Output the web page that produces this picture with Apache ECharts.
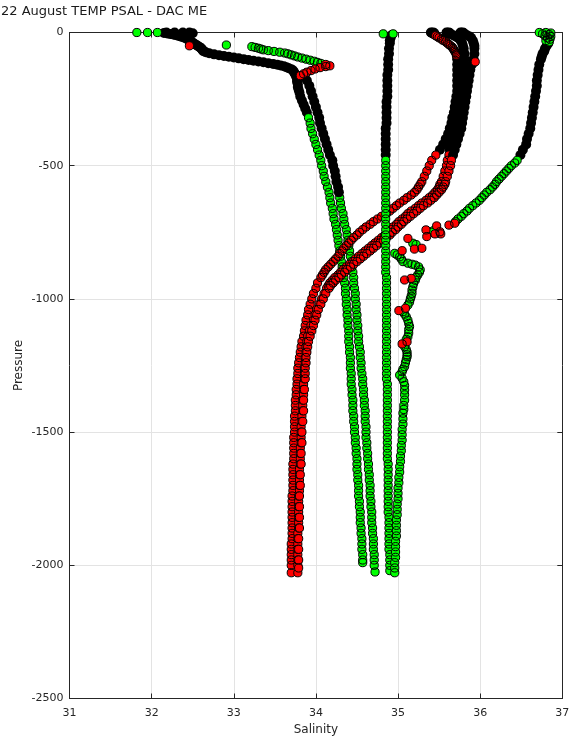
<!DOCTYPE html>
<html>
<head>
<meta charset="utf-8">
<title>22 August TEMP PSAL - DAC ME</title>
<script src="https://cdn.jsdelivr.net/npm/echarts/dist/echarts.min.js"></script>
<style>
  html, body { margin: 0; padding: 0; background: #ffffff; }
  #chart { width: 575px; height: 740px; }
</style>
</head>
<body>
<div id="chart"></div>
<script>
// Salinity profiles. Each row is [pressure (dbar, positive down), salinity].
// "Fine" segments are the finely sampled layers whose marker outlines merge into solid black;
// "Body" segments show the marker fill; "Flag" rows are QC-flagged samples drawn in red.

// ---- Profile A (fresh surface, ends near 1990 dbar) ----
const gaFine = [[0,32.18],[0,32.28],[0,32.38],[0,32.46],[2,32.15],[3,32.5],[4,32.19],[6,32.23],[8,32.27],[10,32.30],[13,32.33],[16,32.36],[19,32.39],[22,32.42],[26,32.44],[30,32.46],[34,32.48],[38,32.50],[42,32.52],[46,32.54],[50,32.56],[54,32.58],[58,32.60],[62,32.61],[66,32.62],[70,32.63],[74,32.66],[78,32.70],[82,32.76],[85,32.82],[88,32.88],[91,32.94],[94,33.00],[97,33.06],[100,33.12],[103,33.18],[106,33.24],[109,33.30],[112,33.36],[115,33.42],[118,33.48],[121,33.53],[124,33.57],[127,33.61],[130,33.64],[134,33.67],[138,33.70],[142,33.72],[147,33.73],[152,33.74],[158,33.75],[165,33.76],[175,33.77],[185,33.77],[195,33.78],[205,33.78],[215,33.79],[225,33.80],[240,33.81],[255,33.83],[270,33.85],[285,33.87],[300,33.89]];
const gaBody = [[0,31.82],[0,31.95],[0,32.07],[320,33.91],[340,33.93],[360,33.94],[380,33.96],[400,33.98],[420,34.00],[440,34.02],[460,34.04],[480,34.06],[500,34.07],[520,34.09],[540,34.10],[560,34.12],[580,34.14],[600,34.16],[620,34.17],[640,34.18],[660,34.20],[680,34.21],[700,34.22],[720,34.24],[740,34.25],[760,34.26],[780,34.27],[800,34.28],[820,34.29],[840,34.30],[860,34.31],[880,34.32],[900,34.33],[920,34.34],[940,34.35],[960,34.36],[980,34.36],[1000,34.37],[1020,34.37],[1040,34.38],[1060,34.38],[1080,34.39],[1100,34.39],[1120,34.40],[1140,34.40],[1160,34.40],[1180,34.41],[1200,34.41],[1220,34.42],[1240,34.42],[1260,34.42],[1280,34.43],[1300,34.43],[1320,34.43],[1340,34.44],[1360,34.44],[1380,34.45],[1400,34.45],[1420,34.45],[1440,34.46],[1460,34.46],[1480,34.47],[1500,34.47],[1520,34.48],[1540,34.48],[1560,34.49],[1580,34.49],[1600,34.50],[1620,34.50],[1640,34.50],[1660,34.51],[1680,34.51],[1700,34.52],[1720,34.52],[1740,34.52],[1760,34.53],[1780,34.53],[1800,34.54],[1820,34.54],[1840,34.54],[1860,34.55],[1880,34.55],[1900,34.56],[1920,34.56],[1940,34.56],[1960,34.57],[1980,34.57],[1990,34.57]];
const gaFlag = [[50,32.46]];

// ---- Profile B (ends near 2025 dbar) ----
const gbBody = [[47,32.91],[53,33.22],[56,33.26],[59,33.30],[62,33.33],[65,33.36],[68,33.42],[71,33.49],[74,33.56],[77,33.62],[80,33.66],[84,33.70],[88,33.74],[92,33.78],[96,33.83],[100,33.88],[104,33.93],[108,33.98],[112,34.02],[116,34.06],
  [620,34.29],[640,34.30],[660,34.31],[680,34.33],[700,34.34],[720,34.35],[740,34.37],[760,34.38],[780,34.39],[800,34.40],[820,34.41],[840,34.42],[860,34.43],[880,34.44],[900,34.45],[920,34.46],[940,34.46],[960,34.47],[980,34.48],[1000,34.48],[1020,34.49],[1040,34.49],[1060,34.50],[1080,34.50],[1100,34.51],[1120,34.51],[1140,34.52],[1160,34.52],[1180,34.53],[1200,34.54],[1220,34.54],[1240,34.55],[1260,34.55],[1280,34.56],[1300,34.57],[1320,34.57],[1340,34.58],[1360,34.58],[1380,34.59],[1400,34.59],[1420,34.60],[1440,34.60],[1460,34.60],[1480,34.61],[1500,34.61],[1520,34.61],[1540,34.62],[1560,34.62],[1580,34.63],[1600,34.63],[1620,34.64],[1640,34.64],[1660,34.65],[1680,34.65],[1700,34.66],[1720,34.66],[1740,34.66],[1760,34.67],[1780,34.67],[1800,34.68],[1820,34.68],[1840,34.68],[1860,34.69],[1880,34.69],[1900,34.70],[1920,34.70],[1940,34.70],[1960,34.71],[1980,34.71],[2000,34.71],[2025,34.72]];
const gbFine = [[165,33.86],[180,33.89],[200,33.92],[220,33.94],[240,33.96],[260,33.98],[280,34.00],[300,34.02],[320,34.04],[340,34.05],[360,34.07],[380,34.09],[400,34.11],[420,34.13],[440,34.15],[460,34.17],[480,34.20],[500,34.21],[520,34.23],[540,34.24],[560,34.25],[580,34.27],[600,34.28]];
const gbFlag = [[120,34.12],[125,34.17],[128,34.12],[132,34.05],[137,33.99],[143,33.94],[149,33.89],[155,33.85],[162,33.81]];

// ---- Red profiles 1-3 (saline surface, fresher intermediate water) ----
const r1Fine = [[0,35.40],[0,35.43],[1,35.41],[2,35.44],[3,35.42],[5,35.43],[8,35.45],[90,35.72],[100,35.72],[120,35.72],[140,35.72],[160,35.72],[180,35.72],[200,35.72],[220,35.72],[240,35.71],[260,35.70],[280,35.69],[300,35.68],[320,35.66],[340,35.65],[360,35.63],[380,35.61],[400,35.58],[420,35.55],[440,35.51]];
const r1Body = [[12,35.46],[16,35.48],[20,35.50],[25,35.53],[30,35.55],[35,35.58],[40,35.60],[45,35.62],[50,35.64],[55,35.66],[60,35.67],[65,35.68],[70,35.69],[75,35.70],[80,35.71],[85,35.71],
  [460,35.46],[480,35.41],[500,35.38],[520,35.35],[540,35.32],[560,35.29],[570,35.27],[580,35.25],[590,35.23],[600,35.20],[610,35.16],[620,35.11],[630,35.07],[640,35.02],[650,34.98],[660,34.94],[670,34.90],[680,34.86],[690,34.80],[700,34.75],[710,34.70],[720,34.66],[730,34.61],[740,34.57],[750,34.53],[760,34.50],[770,34.46],[780,34.43],[790,34.40],[800,34.37],[810,34.34],[820,34.32],[830,34.29],[840,34.27],[850,34.24],[860,34.21],[870,34.18],[880,34.15],[890,34.12],[900,34.10],[910,34.08],[920,34.06],[940,34.02],[960,34.00],[980,33.97],[1000,33.95],[1020,33.93],[1040,33.91],[1060,33.90],[1080,33.88],[1100,33.87],[1120,33.86],[1140,33.85],[1160,33.83],[1180,33.82],[1200,33.81],[1220,33.80],[1240,33.79],[1260,33.78],[1280,33.78],[1300,33.77],[1320,33.77],[1340,33.76],[1360,33.76],[1380,33.75],[1400,33.75],[1420,33.75],[1440,33.74],[1460,33.74],[1480,33.74],[1500,33.74],[1520,33.73],[1540,33.73],[1560,33.73],[1580,33.73],[1600,33.73],[1620,33.72],[1640,33.72],[1660,33.72],[1680,33.72],[1700,33.72],[1720,33.72],[1740,33.71],[1760,33.71],[1780,33.71],[1800,33.71],[1820,33.71],[1840,33.71],[1860,33.71],[1880,33.71],[1900,33.71],[1920,33.70],[1940,33.70],[1960,33.70],[1980,33.70],[2000,33.70],[2028,33.70]];

const r2Fine = [[0,35.59],[0,35.62],[1,35.60],[2,35.63],[3,35.61],[6,35.64],[10,35.67],[15,35.70],[20,35.73],[30,35.76],[40,35.78],[50,35.79],[60,35.80],[80,35.81],[100,35.81],[120,35.81],[140,35.80],[160,35.80],[180,35.79],[200,35.79],[220,35.78],[240,35.78],[260,35.77],[280,35.76],[300,35.75],[320,35.74],[340,35.72],[360,35.71],[380,35.69],[400,35.67],[420,35.65],[440,35.63]];
const r2Body = [[460,35.62],[480,35.60],[500,35.59],[520,35.57],[540,35.55],[560,35.53],[570,35.51],[580,35.50],[590,35.48],[600,35.45],[610,35.42],[620,35.38],[630,35.34],[640,35.29],[650,35.25],[660,35.21],[670,35.16],[680,35.12],[690,35.09],[700,35.05],[710,35.01],[720,34.98],[730,34.94],[740,34.91],[750,34.88],[760,34.84],[770,34.80],[780,34.76],[790,34.72],[800,34.68],[810,34.64],[820,34.60],[830,34.56],[840,34.52],[850,34.48],[860,34.45],[870,34.41],[880,34.37],[890,34.33],[900,34.30],[910,34.27],[920,34.23],[930,34.20],[940,34.17],[950,34.15],[960,34.13],[980,34.10],[1000,34.07],[1020,34.04],[1040,34.01],[1060,33.99],[1080,33.97],[1100,33.94],[1120,33.92],[1140,33.90],[1160,33.89],[1180,33.88],[1200,33.88],[1220,33.87],[1240,33.87],[1260,33.86],[1280,33.86],[1300,33.86],[1320,33.85],[1340,33.85],[1360,33.85],[1380,33.84],[1400,33.84],[1420,33.84],[1440,33.83],[1460,33.83],[1480,33.82],[1500,33.82],[1520,33.82],[1540,33.82],[1560,33.81],[1580,33.81],[1600,33.81],[1620,33.81],[1640,33.80],[1660,33.80],[1680,33.80],[1700,33.80],[1720,33.80],[1740,33.79],[1760,33.79],[1780,33.79],[1800,33.79],[1820,33.79],[1840,33.79],[1860,33.79],[1880,33.78],[1900,33.78],[1920,33.78],[1940,33.78],[1960,33.78],[1980,33.78],[2000,33.78],[2028,33.78]];

const r3Fine = [[0,35.76],[0,35.79],[1,35.77],[2,35.80],[3,35.78],[6,35.81],[10,35.84],[15,35.87],[20,35.89],[30,35.91],[40,35.92],[50,35.93],[60,35.93],[80,35.93],[100,35.92],[120,35.90],[140,35.88],[160,35.87],[180,35.86],[200,35.85],[220,35.84],[240,35.83],[260,35.82],[280,35.81],[300,35.80],[320,35.79],[340,35.78],[360,35.77],[380,35.75],[400,35.73],[420,35.71],[440,35.69],[460,35.67]];
const r3Body = [[110,35.94],[480,35.65],[500,35.64],[520,35.62],[540,35.60],[560,35.58],[570,35.57],[580,35.55],[590,35.53],[600,35.50],[610,35.47],[620,35.44],[630,35.40],[640,35.36],[650,35.31],[660,35.27],[670,35.23],[680,35.19],[690,35.15],[700,35.11],[710,35.07],[720,35.04],[730,35.00],[740,34.97],[750,34.93],[760,34.90],[770,34.86],[780,34.82],[790,34.78],[800,34.74],[810,34.70],[820,34.66],[830,34.62],[840,34.58],[850,34.54],[860,34.50],[870,34.46],[880,34.42],[890,34.38],[900,34.35],[910,34.31],[920,34.28],[930,34.24],[940,34.21],[950,34.18],[960,34.16],[980,34.12],[1000,34.09],[1020,34.06],[1040,34.03],[1060,34.01],[1080,33.99],[1100,33.97],[1120,33.95],[1140,33.93],[1160,33.91],[1180,33.90],[1200,33.89],[1220,33.88],[1240,33.88],[1260,33.87],[1280,33.87],[1300,33.87],[1340,33.86],[1380,33.85],[1420,33.85],[1460,33.84],[1500,33.83],[1540,33.83],[1580,33.82],[1620,33.82],[1660,33.81],[1700,33.81],[1740,33.80],[1780,33.80],[1820,33.80],[1860,33.80],[1900,33.79],[1940,33.79],[1980,33.79],[2010,33.79]];

// ---- Profile C (near-uniform 34.85-34.9) ----
const p3Fine = [[10,34.92],[20,34.91],[30,34.90],[40,34.90],[60,34.89],[80,34.89],[100,34.88],[120,34.88],[140,34.88],[160,34.87],[180,34.87],[200,34.87],[220,34.87],[240,34.87],[260,34.86],[280,34.86],[300,34.86],[320,34.86],[340,34.86],[360,34.85],[380,34.85],[400,34.85],[420,34.85],[440,34.85],[460,34.85]];
const p3Body = [[5,34.82],[5,34.94],[480,34.85],[500,34.85],[520,34.85],[540,34.85],[560,34.85],[580,34.85],[600,34.85],[620,34.85],[640,34.85],[660,34.85],[680,34.85],[700,34.85],[720,34.85],[740,34.85],[760,34.85],[780,34.85],[800,34.85],[820,34.85],[840,34.85],[860,34.85],[880,34.85],[900,34.85],[920,34.86],[940,34.86],[960,34.86],[980,34.86],[1000,34.86],[1020,34.86],[1040,34.86],[1060,34.86],[1080,34.86],[1100,34.86],[1120,34.86],[1140,34.86],[1160,34.86],[1180,34.86],[1200,34.86],[1220,34.86],[1240,34.86],[1260,34.86],[1280,34.86],[1300,34.86],[1320,34.87],[1340,34.87],[1360,34.87],[1380,34.87],[1400,34.87],[1420,34.87],[1440,34.87],[1460,34.87],[1480,34.87],[1500,34.87],[1520,34.87],[1540,34.87],[1560,34.87],[1580,34.87],[1600,34.87],[1620,34.88],[1640,34.88],[1660,34.88],[1680,34.88],[1700,34.88],[1720,34.88],[1740,34.88],[1760,34.88],[1780,34.88],[1800,34.88],[1820,34.89],[1840,34.89],[1860,34.89],[1880,34.89],[1900,34.89],[1920,34.89],[1940,34.89],[1960,34.90],[1980,34.90],[2000,34.90],[2020,34.90]];

// ---- Profile D (most saline surface, step structure below 700 dbar) ----
const p5Fine = [[40,36.83],[50,36.81],[60,36.79],[70,36.78],[80,36.76],[90,36.75],[100,36.74],[120,36.72],[140,36.71],[160,36.70],[180,36.69],[200,36.69],[220,36.68],[240,36.67],[260,36.66],[280,36.65],[300,36.64],[320,36.63],[340,36.62],[360,36.61],[380,36.59],[400,36.57],[420,36.56],[440,36.52],[460,36.49]];
const p5Body = [[0,36.72],[0,36.80],[2,36.86],[5,36.76],[8,36.84],[12,36.79],[15,36.86],[20,36.82],[25,36.85],[30,36.80],[35,36.84],
  [480,36.45],[490,36.42],[500,36.38],[510,36.35],[520,36.32],[530,36.29],[540,36.26],[550,36.23],[560,36.20],[570,36.18],[580,36.15],[590,36.12],[600,36.08],[610,36.05],[620,36.02],[630,35.99],[640,35.95],[650,35.91],[660,35.87],[670,35.84],[680,35.80],[690,35.77],[700,35.73],[710,35.70],
  [744,35.43],[750,35.41],[791,35.18],[796,35.22],
  [829,34.96],[835,34.99],[842,35.02],[850,35.04],[860,35.06],[866,35.12],[870,35.17],[873,35.21],[880,35.25],[891,35.27],[900,35.26],[910,35.24],[920,35.22],[930,35.21],[942,35.19],[955,35.18],[967,35.17],[979,35.17],[990,35.16],[1000,35.15],[1012,35.14],[1023,35.12],
  [1048,35.06],[1057,35.08],[1067,35.10],[1080,35.12],[1092,35.13],[1104,35.14],[1115,35.13],[1128,35.13],[1142,35.12],[1152,35.10],
  [1179,35.08],[1190,35.10],[1200,35.11],[1210,35.11],[1217,35.11],[1228,35.10],[1240,35.09],[1254,35.08],[1264,35.06],[1273,35.05],[1286,35.02],[1298,35.05],[1311,35.07],[1325,35.08],[1342,35.08],[1360,35.08],[1380,35.08],[1400,35.07],[1415,35.07],[1429,35.06],[1450,35.06],[1470,35.06],[1490,35.05],[1510,35.05],[1530,35.05],[1550,35.04],[1570,35.04],[1590,35.03],[1610,35.03],[1630,35.02],[1650,35.02],[1670,35.01],[1690,35.01],[1710,35.00],[1730,35.00],[1750,35.00],[1770,34.99],[1790,34.99],[1810,34.99],[1830,34.98],[1850,34.98],[1870,34.98],[1890,34.98],[1910,34.97],[1930,34.97],[1950,34.97],[1970,34.97],[1990,34.96],[2010,34.96],[2028,34.96]];
const p5Flag = [[716,35.69],[723,35.62],[726,35.47],[741,35.34],[748,35.51],[756,35.45],[756,35.52],[766,35.35],[773,35.12],[810,35.29],[813,35.20],[819,35.05],[923,35.16],[929,35.08],[1035,35.09],[1044,35.01],[1161,35.11],[1169,35.05]];

// ---- Axis ticks ----
const salinityTicks = [31, 32, 33, 34, 35, 36, 37];
const pressureTicks = [0, -500, -1000, -1500, -2000, -2500];

const GREEN = '#00ff00';
const RED = '#ff0000';
const INK = '#000000';
const MARK = 8.2;
const FINE_MARK = 10;

const series = [];
const toXY = rows => rows.map(r => [r[1], -r[0]]);

// Fill layer first, then outline layer on top, so that outlines of neighbouring
// markers stay visible across each other's fill.
function addMarkers(rows, fill) {
  const data = toXY(rows);
  series.push({
    type: 'scatter', data, symbol: 'circle', symbolSize: MARK, silent: true,
    itemStyle: { color: fill, borderWidth: 0, opacity: 1 }
  });
  series.push({
    type: 'scatter', data, symbol: 'circle', symbolSize: MARK, silent: true,
    itemStyle: { color: 'rgba(0,0,0,0)', borderColor: INK, borderWidth: 1, opacity: 1 }
  });
}
function addFine(rows) {
  series.push({
    type: 'scatter', data: toXY(rows), symbol: 'circle', symbolSize: FINE_MARK, silent: true,
    itemStyle: { color: INK, borderWidth: 0, opacity: 1 }
  });
}

addFine(gaFine); addMarkers(gaBody, GREEN); addMarkers(gaFlag, RED);
addMarkers(gbBody, GREEN); addFine(gbFine); addMarkers(gbFlag, RED);
addFine(r1Fine); addMarkers(r1Body, RED);
addFine(r2Fine); addMarkers(r2Body, RED);
addFine(r3Fine); addMarkers(r3Body, RED);
addFine(p3Fine); addMarkers(p3Body, GREEN);
addFine(p5Fine); addMarkers(p5Body, GREEN); addMarkers(p5Flag, RED);

const AX = '#262626';
const FONT = 'DejaVu Sans';
const plainNumber = v => String(v);

const chart = echarts.init(document.getElementById('chart'), null, { renderer: 'canvas' });
chart.setOption({
  animation: false,
  backgroundColor: '#ffffff',
  title: {
    text: '22 August TEMP PSAL - DAC ME',
    left: 1, top: 5, padding: 0,
    textStyle: { fontFamily: FONT, fontSize: 13, fontWeight: 'normal', color: '#1a1a1a' }
  },
  grid: { left: 69.5, right: 12.7, top: 32.5, bottom: 41.5, containLabel: false, outerBoundsMode: 'none' },
  xAxis: [{
    type: 'value', position: 'bottom',
    min: salinityTicks[0], max: salinityTicks[salinityTicks.length - 1], interval: 1,
    name: 'Salinity', nameLocation: 'middle', nameGap: 25, nameMoveOverlap: false,
    nameTextStyle: { fontFamily: FONT, fontSize: 12, color: AX },
    axisLine: { show: true, onZero: false, lineStyle: { color: AX, width: 1 } },
    axisTick: { show: true, inside: true, length: 5, lineStyle: { color: AX } },
    axisLabel: { fontFamily: FONT, fontSize: 11, color: AX, margin: 9, formatter: plainNumber },
    splitLine: { show: true, lineStyle: { color: '#e3e3e3', width: 1 } }
  }, {
    type: 'value', position: 'top',
    min: salinityTicks[0], max: salinityTicks[salinityTicks.length - 1], interval: 1,
    axisLine: { show: true, onZero: false, lineStyle: { color: AX, width: 1 } },
    axisTick: { show: true, inside: true, length: 5, lineStyle: { color: AX } },
    axisLabel: { show: false }, splitLine: { show: false }
  }],
  yAxis: [{
    type: 'value', position: 'left',
    min: pressureTicks[pressureTicks.length - 1], max: pressureTicks[0], interval: 500,
    name: 'Pressure', nameLocation: 'middle', nameGap: 45, nameRotate: 90, nameMoveOverlap: false,
    nameTextStyle: { fontFamily: FONT, fontSize: 12, color: AX },
    axisLine: { show: true, onZero: false, lineStyle: { color: AX, width: 1 } },
    axisTick: { show: true, inside: true, length: 5, lineStyle: { color: AX } },
    axisLabel: { fontFamily: FONT, fontSize: 11, color: AX, margin: 6, formatter: plainNumber },
    splitLine: { show: true, lineStyle: { color: '#e3e3e3', width: 1 } }
  }, {
    type: 'value', position: 'right',
    min: pressureTicks[pressureTicks.length - 1], max: pressureTicks[0], interval: 500,
    axisLine: { show: true, onZero: false, lineStyle: { color: AX, width: 1 } },
    axisTick: { show: true, inside: true, length: 5, lineStyle: { color: AX } },
    axisLabel: { show: false }, splitLine: { show: false }
  }],
  series
});
</script>
</body>
</html>
